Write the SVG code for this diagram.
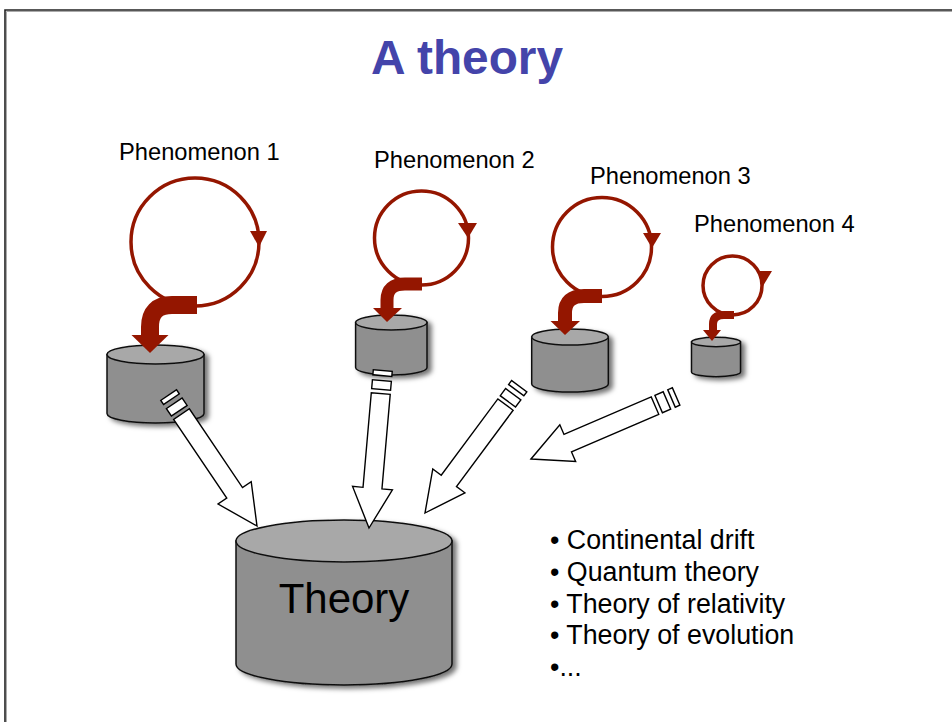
<svg xmlns="http://www.w3.org/2000/svg" xmlns:xlink="http://www.w3.org/1999/xlink" width="952" height="722" viewBox="0 0 952 722">
<style>
.body{fill:#8f8f8f;stroke:#111;stroke-width:1.5}
.top{fill:#a8a8a8;stroke:#111;stroke-width:1.5}
.loop{fill:none;stroke:#941600;stroke-width:3.5}
.thick{fill:none;stroke:#941600;stroke-linejoin:round}
.head{fill:#941600}
.blk{fill:#fff;stroke:#000;stroke-width:1.4;stroke-linejoin:miter}
.lbl{font-family:"Liberation Sans",Arial,sans-serif;font-size:23.7px;fill:#000}
.bul{font-family:"Liberation Sans",Arial,sans-serif;font-size:26.8px;fill:#000}
</style>
<defs>
<filter id="sh" x="-20%" y="-20%" width="150%" height="150%">
<feDropShadow dx="4" dy="3" stdDeviation="2.5" flood-color="#000" flood-opacity="0.55"/>
</filter>
<g id="blockArrow">
<polygon class="blk" points="0,0 -40,-20 -40,-9.5 -135,-9.5 -135,9.5 -40,9.5 -40,20"/>
<rect class="blk" x="-148" y="-9.5" width="9" height="19"/>
<rect class="blk" x="-158" y="-9.5" width="5" height="19"/>
</g>
</defs>
<rect width="952" height="722" fill="#fff"/>
<path d="M5,722 V10 H952" fill="none" stroke="#222" stroke-width="1.6"/>
<path d="M6.5,722 V11.5 H952" fill="none" stroke="#aaa" stroke-width="1"/>

<text x="467" y="74" text-anchor="middle" font-family="'Liberation Sans',Arial,sans-serif" font-weight="bold" font-size="47.8" fill="#4444aa">A theory</text>

<g id="phenomenon1">
<text class="lbl" x="119" y="159.5">Phenomenon 1</text>
<g filter="url(#sh)">
<path class="body" d="M107,354.5 V413.5 A48.5,9.5 0 0 0 204,413.5 V354.5 Z"/>
<ellipse class="top" cx="155.5" cy="354.5" rx="48.5" ry="9.5"/>
</g>
<circle class="loop" cx="195" cy="242" r="64"/>
<polygon class="head" points="250,231 267,231 259,247"/>
<path class="thick" stroke-width="18" d="M197,305 H172 Q150,305 150,327 V336"/>
<polygon class="head" points="131.5,335 168.5,335 150,353"/>
</g>

<g id="phenomenon2">
<text class="lbl" x="374" y="167.5">Phenomenon 2</text>
<g filter="url(#sh)">
<path class="body" d="M355.6,322.5 V367.5 A35.7,7.5 0 0 0 427,367.5 V322.5 Z"/>
<ellipse class="top" cx="391.3" cy="322.5" rx="35.7" ry="7.5"/>
</g>
<circle class="loop" cx="421.5" cy="238" r="47"/>
<polygon class="head" points="458,223 477,223 468,238"/>
<path class="thick" stroke-width="13" d="M422,284 H405 Q387,284 387,300 V309"/>
<polygon class="head" points="373,308 402,308 387,322"/>
</g>

<g id="phenomenon3">
<text class="lbl" x="590" y="183.5">Phenomenon 3</text>
<g filter="url(#sh)">
<path class="body" d="M531.7,337 V384 A38.3,8 0 0 0 608.3,384 V337 Z"/>
<ellipse class="top" cx="570" cy="337" rx="38.3" ry="8"/>
</g>
<circle class="loop" cx="602" cy="247" r="49.5"/>
<polygon class="head" points="643,233 661,233 652,248"/>
<path class="thick" stroke-width="14" d="M602,296 H584 Q565,296 565,313 V322"/>
<polygon class="head" points="550.5,321 580,321 565,335"/>
</g>

<g id="phenomenon4">
<text class="lbl" x="694" y="231.5">Phenomenon 4</text>
<g filter="url(#sh)">
<path class="body" d="M691.5,342 V372 A24.5,4.7 0 0 0 740.5,372 V342 Z"/>
<ellipse class="top" cx="716" cy="342" rx="24.5" ry="4.7"/>
</g>
<circle class="loop" cx="732.5" cy="285.5" r="29.5" stroke-width="3"/>
<polygon class="head" points="757,271 772,271 763,286"/>
<path class="thick" stroke-width="8" d="M734,315 H724 Q713,315 713,324 V331"/>
<polygon class="head" points="703,330 721,330 712,341"/>
</g>

<g id="theory">
<g filter="url(#sh)">
<path class="body" d="M236,541 V664 A108,21 0 0 0 452,664 V541 Z"/>
<ellipse class="top" cx="344" cy="541" rx="108" ry="21"/>
</g>
<text x="344" y="613" text-anchor="middle" font-family="'Liberation Sans',Arial,sans-serif" font-size="42" fill="#000">Theory</text>
</g>

<g id="connectors">
<use xlink:href="#blockArrow" transform="translate(257,526) rotate(56)"/>
<use xlink:href="#blockArrow" transform="translate(369,528) rotate(95)"/>
<use xlink:href="#blockArrow" transform="translate(425,513) rotate(126.6)"/>
<use xlink:href="#blockArrow" transform="translate(531,459) rotate(156.7)"/>
</g>

<g id="examples">
<text class="bul" x="550" y="549">• Continental drift</text>
<text class="bul" x="550" y="581">• Quantum theory</text>
<text class="bul" x="550" y="613">• Theory of relativity</text>
<text class="bul" x="550" y="644">• Theory of evolution</text>
<text class="bul" x="550" y="676">•...</text>
</g>
</svg>
